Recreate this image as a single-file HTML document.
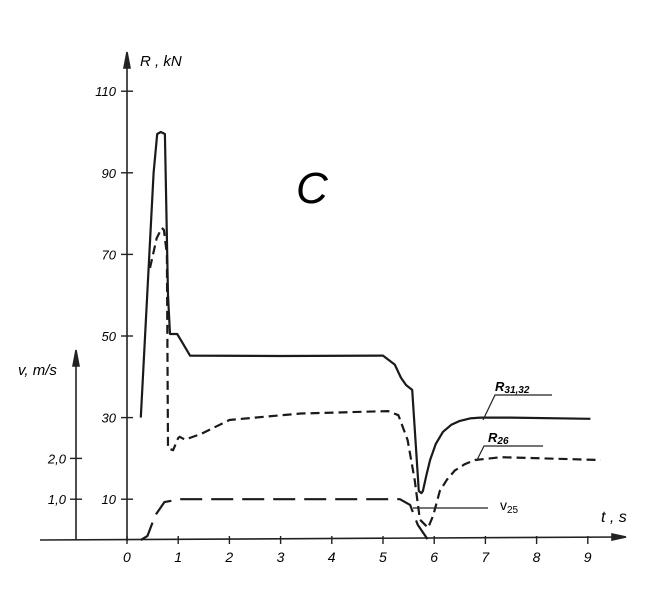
<!DOCTYPE html>
<html><head><meta charset="utf-8"><style>
html,body{margin:0;padding:0;background:#fff}
svg text{font-family:"Liberation Sans",sans-serif}
</style></head><body>
<svg width="651" height="599" viewBox="0 0 651 599">
<g id="axes" stroke="#222" stroke-width="1.6" fill="none">
<line x1="40" y1="540" x2="622" y2="537"/>
<polygon points="626,537 612,534 612,540" fill="#222"/>
<line x1="127" y1="541" x2="127" y2="62"/>
<polygon points="127,52 124,68 130,68" fill="#222"/>
<line x1="76" y1="540" x2="76" y2="360"/>
<polygon points="76,350 73,366 79,366" fill="#222"/>
</g>
<g id="ticks"></g>
<g id="series"></g>
<text x="140" y="66" font-size="15" font-style="italic">R , kN</text>
<text x="18" y="375" font-size="15" font-style="italic">v, m/s</text>
<text x="601" y="522" font-size="16" font-style="italic">t , s</text>
<text x="296" y="203" font-size="44" font-style="italic" font-family="Liberation Serif">C</text>
<g stroke="#222" stroke-width="1.2" fill="none">
<polyline points="483,420 495,395 552,395"/>
<polyline points="477,460 484,446 543,446"/>
<line x1="413" y1="508" x2="488" y2="508"/>
</g>
<text x="495" y="391" font-size="13" font-style="italic" font-weight="bold">R<tspan font-size="10" dy="2">31,32</tspan></text>
<text x="488" y="442" font-size="13" font-style="italic" font-weight="bold">R<tspan font-size="10" dy="2">26</tspan></text>
<text x="500" y="510" font-size="14">v<tspan font-size="10" dy="3">25</tspan></text>
</svg>
<script>
const tTicks=[0,1,2,3,4,5,6,7,8,9];
const rTicks=[10,30,50,70,90,110];
const vTicks=[1.0,2.0];
const vTickLabels=["1,0","2,0"];
const r3132T=[0.27,0.52,0.59,0.66,0.74,0.8,0.84,0.98,1.1,1.23,3,5.0,5.23,5.35,5.45,5.57,5.7,5.75,5.78,5.85,5.92,6.03,6.17,6.33,6.5,6.7,6.9,7.5,9.05];
const r3132V=[30,90,99.5,100,99.5,60,50.5,50.5,48,45.2,45.1,45.2,43,39.8,38,36.8,12,11.5,12,16,19.6,23.5,26.5,28.2,29.2,29.8,30,30,29.7];
const r26T=[0.45,0.58,0.68,0.72,0.78,0.8,0.9,1.0,1.03,1.13,1.45,2.0,2.5,3.4,5.1,5.3,5.48,5.62,5.72,5.88,5.98,6.11,6.25,6.4,6.6,6.8,7.3,9.25];
const r26V=[66.7,74,76.5,76,70,22.5,22,25,25.3,24.6,26,29.4,30,31,31.6,30.6,24.5,14.7,5,3,6,12,14.8,17,18.6,19.6,20.3,19.6];
const v25T=[0.27,0.4,0.55,0.73,1.03,3,5.33,5.53,5.68,5.88];
const v25V=[0,0.1,0.6,0.93,1.0,1.0,1.0,0.86,0.37,0];
const X=t=>127+t*51.2;
const YR=r=>540-r*4.08;
const YV=v=>540-v*40.8;
const NS="http://www.w3.org/2000/svg";
const tk=document.getElementById('ticks');
function mk(tag,a,p){const e=document.createElementNS(NS,tag);for(const k in a)e.setAttribute(k,a[k]);p.appendChild(e);return e;}
tTicks.forEach(t=>{
 const l=mk('line',{x1:X(t),y1:536,x2:X(t),y2:544,stroke:'#222','stroke-width':1.4},tk);
 
 
 const s=mk('text',{x:X(t)-4,y:562,'font-size':14,'font-style':'italic'},tk);
 
 
 s.textContent=t;
});
rTicks.forEach(r=>{
 const l=mk('line',{x1:121,y1:YR(r),x2:133,y2:YR(r),stroke:'#222','stroke-width':1.4},tk);
 
 
 const s=mk('text',{x:116,y:YR(r)+5,'font-size':13,'font-style':'italic','text-anchor':'end'},tk);
 
 
 s.textContent=r;
});
vTicks.forEach((v,i)=>{
 const l=mk('line',{x1:70,y1:YV(v),x2:82,y2:YV(v),stroke:'#222','stroke-width':1.4},tk);
 
 
 const s=mk('text',{x:66,y:YV(v)+5,'font-size':13,'font-style':'italic','text-anchor':'end'},tk);
 
 
 s.textContent=vTickLabels[i];
});
const sg=document.getElementById('series');
function line(T,V,Y,dash,name){
 const pts=T.map((t,i)=>X(t).toFixed(1)+','+Y(V[i]).toFixed(1)).join(' ');
 const p=mk('polyline',{points:pts,fill:'none',stroke:'#1a1a1a','stroke-width':2.2,'stroke-linejoin':'round','stroke-dasharray':dash},sg);
 
 
}
line(r3132T,r3132V,YR,'none','r3132-line');
line(r26T,r26V,YR,'9 5','r26-line');
line(v25T,v25V,YV,'22 9','v25-line');
</script>
</body></html>
